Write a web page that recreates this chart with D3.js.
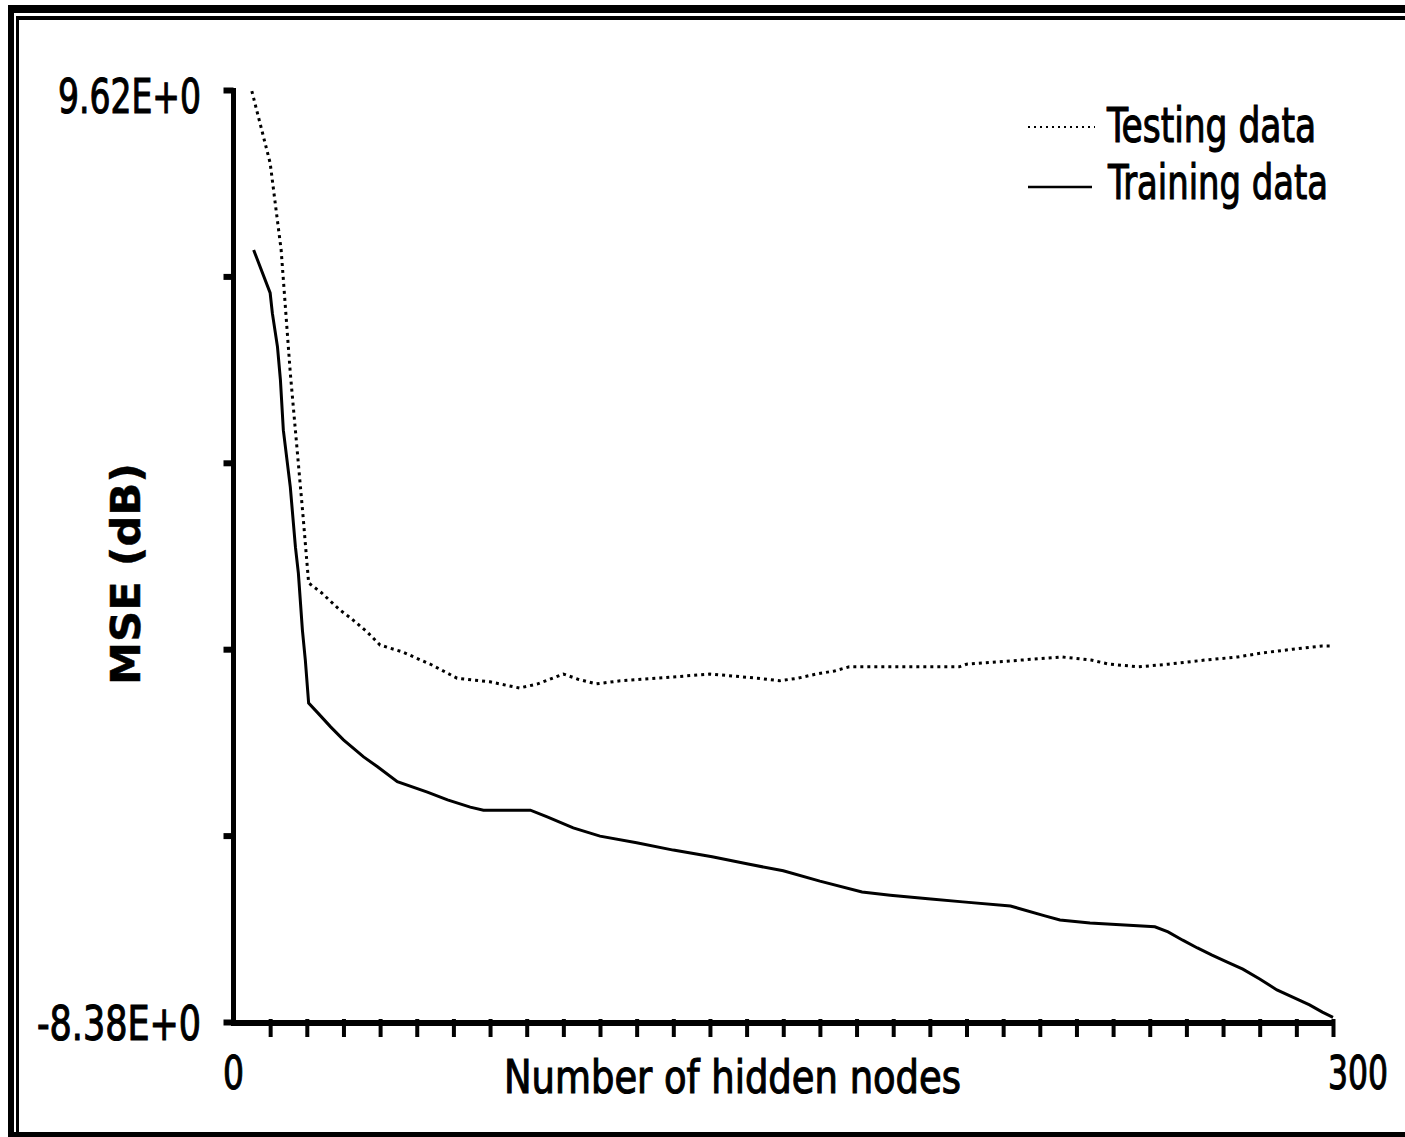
<!DOCTYPE html>
<html>
<head>
<meta charset="utf-8">
<script src="https://cdnjs.cloudflare.com/ajax/libs/d3/7.8.5/d3.min.js"></script>
<style>
  html, body { margin: 0; padding: 0; background: #fff; }
  svg { display: block; }
  text { font-family: "DejaVu Sans Condensed", "Liberation Sans", sans-serif; fill: #000; stroke: #000; stroke-width: 1.1; }
</style>
</head>
<body>
<svg id="chart" width="1405" height="1137"></svg>
<script>
// ---- data ----
const xDomain = [0, 300];
const yDomain = [-8.38, 9.62];
const yTickValues = [-8.38, -4.78, -1.18, 2.42, 6.02, 9.62];
const yTickLabels = ["-8.38E+0", "", "", "", "", "9.62E+0"];
const xTickValues = d3.range(10, 301, 10);
const xTickLabels = ["0", "300"];
const xLabelValues = [0, 300];
const seriesNames = ["Testing data", "Training data"];
const xTitle = "Number of hidden nodes";
const yTitle = "MSE (dB)";

const testNodes = [5, 10, 13, 15.5, 19, 20.5, 24, 29, 32, 36.5, 40, 46, 54, 61, 70, 78, 83, 90, 94, 99, 105.5, 115.6, 130, 143, 149, 154, 159, 164, 168, 198, 200, 215, 226, 234, 239, 247, 255, 265, 274, 281, 289, 297, 300];
const testMSE   = [9.60, 8.21, 6.53, 4.15, 1.37, 0.10, -0.09, -0.42, -0.58, -0.85, -1.10, -1.23, -1.48, -1.74, -1.81, -1.93, -1.85, -1.66, -1.76, -1.85, -1.79, -1.74, -1.66, -1.74, -1.79, -1.74, -1.66, -1.60, -1.52, -1.52, -1.47, -1.39, -1.33, -1.39, -1.47, -1.52, -1.47, -1.39, -1.33, -1.25, -1.18, -1.12, -1.12];

const trainNodes = [5.5, 10, 10.6, 12, 12.8, 13.6, 15.5, 16.9, 17.7, 18.8, 19.6, 20.5, 23, 26.5, 30, 35.5, 39.3, 44.7, 52.9, 58.4, 64.6, 68.2, 81, 85.6, 92.7, 100, 110, 120, 130.6, 140.4, 150, 160, 171.5, 179.2, 189.5, 199, 212, 221.4, 225.5, 233.7, 251.4, 255, 259, 263, 267, 271, 275.4, 280, 284.7, 289, 293.6, 297.1, 300];
const trainMSE   = [6.53, 5.70, 5.31, 4.66, 4.02, 3.05, 1.95, 0.79, 0.29, -0.81, -1.39, -2.22, -2.41, -2.68, -2.93, -3.26, -3.45, -3.74, -3.94, -4.09, -4.23, -4.29, -4.29, -4.42, -4.63, -4.79, -4.92, -5.06, -5.19, -5.33, -5.46, -5.66, -5.87, -5.93, -6.00, -6.06, -6.14, -6.33, -6.41, -6.47, -6.54, -6.64, -6.80, -6.95, -7.09, -7.22, -7.36, -7.55, -7.76, -7.90, -8.05, -8.19, -8.29];

// ---- drawing ----
const svg = d3.select("#chart");
const W = 1405, H = 1137;

// frame
const frame = svg.append("g").attr("shape-rendering", "crispEdges");
frame.append("rect").attr("x", 8).attr("y", 5).attr("width", W - 8).attr("height", 8);
frame.append("rect").attr("x", 16).attr("y", 16).attr("width", W - 16).attr("height", 4);
frame.append("rect").attr("x", 8).attr("y", 5).attr("width", 6).attr("height", H - 5);
frame.append("rect").attr("x", 16).attr("y", 16).attr("width", 3).attr("height", H - 16);
frame.append("rect").attr("x", 8).attr("y", 1132).attr("width", W - 8).attr("height", 5);

const x = d3.scaleLinear().domain(xDomain).range([233.5, 1333]);
const y = d3.scaleLinear().domain(yDomain).range([1022, 90]);

// y axis
const yAxis = svg.append("g").attr("transform", `translate(${x(0)},0)`)
  .call(d3.axisLeft(y).tickValues(yTickValues).tickSize(10).tickSizeOuter(0).tickFormat(""));
yAxis.select(".domain").remove();
yAxis.selectAll(".tick line").attr("stroke", "#000").attr("stroke-width", 6);
svg.append("line").attr("x1", x(0)).attr("x2", x(0)).attr("y1", y(yDomain[1]) - 2).attr("y2", y(yDomain[0]) + 4)
  .attr("stroke", "#000").attr("stroke-width", 5);

// x axis
const xAxis = svg.append("g").attr("transform", `translate(0,${y(yDomain[0]) + 1})`)
  .call(d3.axisBottom(x).tickValues(xTickValues).tickSize(14).tickSizeOuter(0).tickFormat(""));
xAxis.select(".domain").remove();
xAxis.selectAll(".tick line").attr("stroke", "#000").attr("stroke-width", 4).attr("y1", -4);
svg.append("line").attr("x1", x(0) - 2.5).attr("x2", x(300)).attr("y1", y(yDomain[0]) + 1).attr("y2", y(yDomain[0]) + 1)
  .attr("stroke", "#000").attr("stroke-width", 6);

// y tick labels
const yLabelWidths = { "9.62E+0": 143, "-8.38E+0": 164 };
yTickValues.forEach((v, i) => {
  const t = yTickLabels[i];
  if (!t) return;
  svg.append("text")
    .attr("x", 201).attr("y", y(v) + (i === yTickValues.length - 1 ? 23 : 18))
    .attr("text-anchor", "end")
    .attr("font-size", 48)
    .attr("textLength", yLabelWidths[t]).attr("lengthAdjust", "spacingAndGlyphs")
    .text(t);
});

// x tick labels
svg.append("text").attr("x", x(xLabelValues[0])).attr("y", 1089).attr("text-anchor", "middle")
  .attr("font-size", 46).attr("textLength", 21).attr("lengthAdjust", "spacingAndGlyphs").text(xTickLabels[0]);
svg.append("text").attr("transform", `translate(${x(xLabelValues[1]) + 55},1089) scale(0.76,1)`)
  .attr("text-anchor", "end").attr("font-size", 46).text(xTickLabels[1]);

// axis titles
svg.append("text").attr("x", 504).attr("y", 1093).attr("font-size", 46)
  .attr("textLength", 457).attr("lengthAdjust", "spacingAndGlyphs").text(xTitle);
svg.append("text").attr("transform", "translate(140,574) rotate(-90)").attr("text-anchor", "middle")
  .attr("font-size", 40).attr("font-weight", "bold").style("stroke-width", 0.4)
  .attr("textLength", 222).attr("lengthAdjust", "spacingAndGlyphs").text(yTitle);

// lines
const line = d3.line().x(d => x(d[0])).y(d => y(d[1]));
const testData = testNodes.map((n, i) => [n, testMSE[i]]);
const trainData = trainNodes.map((n, i) => [n, trainMSE[i]]);

svg.append("path").datum(testData).attr("d", line)
  .attr("fill", "none").attr("stroke", "#000").attr("stroke-width", 3).attr("stroke-dasharray", "3,4");
svg.append("path").datum(trainData).attr("d", line)
  .attr("fill", "none").attr("stroke", "#000").attr("stroke-width", 3);

// legend
const legend = svg.append("g");
legend.append("line").attr("x1", 1028).attr("x2", 1095).attr("y1", 127).attr("y2", 127)
  .attr("stroke", "#000").attr("stroke-width", 2).attr("stroke-dasharray", "2,4");
legend.append("line").attr("x1", 1028).attr("x2", 1092).attr("y1", 187).attr("y2", 187)
  .attr("stroke", "#000").attr("stroke-width", 2.5);
legend.append("text").attr("x", 1107).attr("y", 142).attr("font-size", 48)
  .attr("textLength", 209).attr("lengthAdjust", "spacingAndGlyphs").text(seriesNames[0]);
legend.append("text").attr("x", 1108).attr("y", 199).attr("font-size", 48)
  .attr("textLength", 220).attr("lengthAdjust", "spacingAndGlyphs").text(seriesNames[1]);
</script>
</body>
</html>
